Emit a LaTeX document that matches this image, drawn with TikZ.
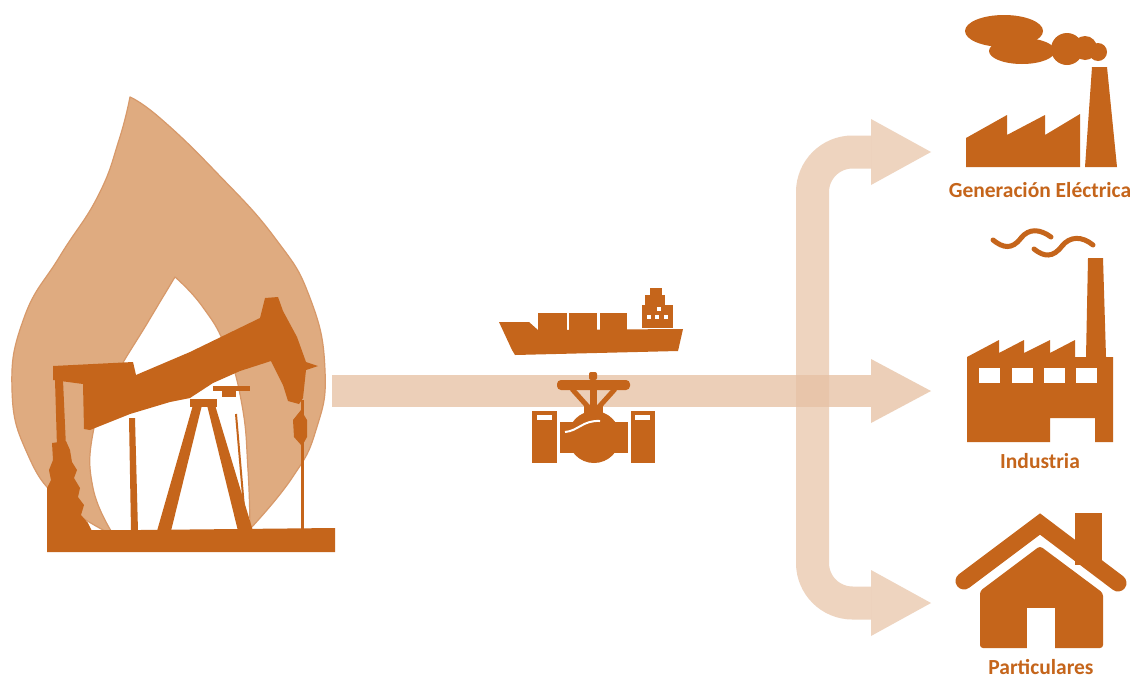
\documentclass[tikz,border=0pt]{standalone}
\usepackage{fontspec}
\setmainfont{Carlito}
\definecolor{rust}{RGB}{197,101,27}
\definecolor{flamefill}{RGB}{223,171,128}
\definecolor{flameedge}{RGB}{215,153,106}
\definecolor{pipeh}{RGB}{236,207,184}
\definecolor{pipev}{RGB}{231,194,165}
\tikzset{
  lbl/.style={font=\bfseries\fontsize{21.5}{24}\selectfont, text=rust, inner sep=0pt, anchor=base},
  flow/.style={draw=pipev, line width=33pt, opacity=0.7, rounded corners=40pt},
  flowhead/.style={fill=pipev, opacity=0.7, draw=none},
}
\begin{document}
\begin{tikzpicture}[x=1pt,y=-1pt]
\useasboundingbox (0,0) rectangle (1137,678);
\fill[white] (0,0) rectangle (1137,678);

% ---- main gas line -------------------------------------------------
\fill[pipeh] (332,375) rectangle (871,407);
\fill[pipeh] (871,359) -- (931,391) -- (871,423) -- cycle;

% ---- distribution branch -------------------------------------------
\draw[flow] (871,152) -- (812.5,152) -- (812.5,603) -- (871,603);
\fill[flowhead] (871,119) -- (931,152) -- (871,185) -- cycle;
\fill[flowhead] (871,570) -- (931,603) -- (871,636) -- cycle;

% ---- flame ---------------------------------------------------------
\filldraw[fill=flamefill, draw=flameedge, line width=1.2pt, line join=round]
  (111,534)
  -- plot[smooth, tension=0.8] coordinates {(111,534) (62,502) (28,455) (12,390) (24,318) (60,256) (98,196) (119,140) (130,97)}
  -- plot[smooth, tension=0.8] coordinates {(130,97) (160,118) (216,172) (275,238) (310,298) (325,370) (316,430) (292,478) (250,529)}
  -- plot[smooth, tension=0.8] coordinates {(250,529) (248,470) (242,405) (226,348) (202,306) (175,277)}
  -- plot[smooth, tension=0.8] coordinates {(175,277) (148,322) (112,383) (93,433) (93,488) (113,534)}
  -- cycle;

% ---- pump jack -----------------------------------------------------
% walking beam with horse head
\fill[rust] (53,366) -- (133,362) -- (136,375) -- (190,352) -- (260,318) -- (265,298)
  -- (278,297) -- (283,311) -- (297,337) -- (306,362) -- (318,366) -- (306,370)
  -- (303,398) -- (299,404) -- (288,401) -- (283,385) -- (271,361) -- (240,371)
  -- (213,383) -- (190,398) -- (170,402) -- (130,414) -- (90,430) -- (84,429)
  -- (83,384) -- (53,380) -- cycle;
% pitman post and crank
\fill[rust] (55,380) -- (63,380) -- (66,447) -- (57,447) -- cycle;
\fill[rust] (52,443) -- (66,441) -- (70,450) -- (72,462) -- (77,470) -- (74,478)
  -- (80,488) -- (78,497) -- (84,505) -- (81,515) -- (88,523) -- (92,531)
  -- (47,531) -- (47,488) -- (51,480) -- (49,470) -- (53,460) -- cycle;
% rear brace
\fill[rust] (129,418) -- (135,418) -- (138,531) -- (131,531) -- cycle;
% samson post
\fill[rust] (190,399) rectangle (217,407);
\fill[rust] (193,405) -- (202,405) -- (171,531) -- (157,531) -- cycle;
\fill[rust] (207,405) -- (215,405) -- (253,531) -- (238,531) -- cycle;
\draw[rust, line width=2pt] (236,414) -- (246,531);
% saddle
\fill[rust] (213,386) rectangle (250,391);
\fill[rust] (222,391) rectangle (236,397);
% polished rod and stuffing box
\fill[rust] (301,400) rectangle (304,531);
\fill[rust] (301,410) -- (307,420) -- (307,437) -- (302,446) -- (294,437) -- (293,420) -- cycle;
% base
\fill[rust] (47,530) -- (140,530) -- (335,528) -- (335,552) -- (47,552) -- cycle;

% ---- cargo ship ----------------------------------------------------
\fill[rust] (499,322) -- (529,322) -- (538,330) -- (683,329) -- (678,351) -- (515,355) -- (512,350) -- cycle;
\fill[rust] (538,313) rectangle (567,330);
\fill[rust] (569,313) rectangle (597,330);
\fill[rust] (600,313) rectangle (627,330);
\fill[rust] (642,305) rectangle (673,328);
\fill[rust] (645,295) rectangle (665,306);
\fill[rust] (650,288) rectangle (662,296);
\fill[white] (647,315) rectangle (651,319);
\fill[white] (655,315) rectangle (659,319);
\fill[white] (664,315) rectangle (668,319);
\fill[white] (657,307) rectangle (661,311);

% ---- valve ---------------------------------------------------------
\fill[rust, rounded corners=4pt] (557,380) rectangle (630,390);
\fill[rust, rounded corners=2pt] (589,372) rectangle (597,380);
\draw[rust, line width=5pt] (572,389) -- (590,409);
\draw[rust, line width=5pt] (615,389) -- (597,409);
\fill[rust] (590,388) rectangle (597,412);
\fill[rust] (584,405) rectangle (603,418);
\fill[rust] (560,422) rectangle (628,453);
\fill[rust] (594,437) circle[radius=26];
\fill[rust] (532,411) rectangle (557,463);
\fill[rust] (631,411) rectangle (655,463);
\fill[white] (537,415) rectangle (552,420);
\fill[white] (635,415) rectangle (650,420);
\draw[white, line width=2pt] (565,432) .. controls (578,431) and (583,420) .. (600,421);

% ---- power plant ---------------------------------------------------
\fill[rust] (1004,31) ellipse[x radius=39, y radius=16];
\fill[rust] (1022,51) ellipse[x radius=33, y radius=13];
\fill[rust] (1067,49) circle[radius=16];
\fill[rust] (1085,48) circle[radius=12];
\fill[rust] (1098,52) circle[radius=9];
\fill[rust] (1092,67) -- (1107,67) -- (1117,167) -- (1085,167) -- cycle;
\fill[rust] (966,167) -- (966,138) -- (1007,115) -- (1007,135) -- (1045,115)
  -- (1045,135) -- (1080,114) -- (1080,167) -- cycle;
\node[lbl] (gen) at (1040,197) {Generación Eléctrica};

% ---- industry ------------------------------------------------------
\draw[rust, line width=5pt, line cap=round]
  (993,240) .. controls (1003,248) and (1012,250) .. (1021,238)
  .. controls (1029,228) and (1040,229) .. (1051,237);
\draw[rust, line width=5pt, line cap=round]
  (1034,249) .. controls (1044,257) and (1053,258) .. (1062,246)
  .. controls (1070,236) and (1082,236) .. (1093,245);
\fill[rust] (967,442) -- (967,357) -- (999,340) -- (999,353) -- (1024,340) -- (1024,353)
  -- (1050,340) -- (1050,353) -- (1075,340) -- (1075,357) -- (1086,357) -- (1088,258)
  -- (1103,258) -- (1106,357) -- (1113,357) -- (1113,442) -- (1095,442) -- (1095,418)
  -- (1050,418) -- (1050,442) -- cycle;
\fill[white] (979,368) rectangle (1000,383);
\fill[white] (1012,368) rectangle (1033,383);
\fill[white] (1044,368) rectangle (1065,383);
\fill[white] (1076,368) rectangle (1097,383);
\node[lbl] (ind) at (1040,468) {Industria};

% ---- house ---------------------------------------------------------
\fill[rust] (1075,513) rectangle (1102,565);
\draw[rust, line width=17pt, line cap=round, line join=miter] (964,581) -- (1040,524) -- (1118,583);
\fill[rust, rounded corners=3pt] (980,648) -- (980,591) -- (1040,546) -- (1103,593) -- (1103,648) -- cycle;
\fill[white] (1027,608) rectangle (1055,648.5);
\node[lbl] (par) at (1041,674) {Particulares};
\end{tikzpicture}
\end{document}
